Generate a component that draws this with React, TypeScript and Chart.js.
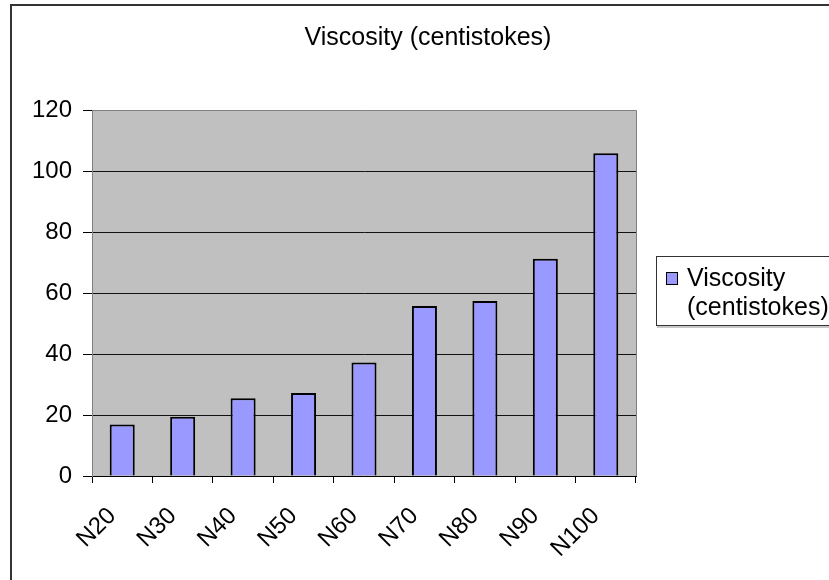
import React, { useEffect, useRef } from 'react';
import { Chart, registerables } from 'chart.js';

Chart.register(...registerables);

const chartTitle = 'Viscosity (centistokes)';
const categories = ['N20', 'N30', 'N40', 'N50', 'N60', 'N70', 'N80', 'N90', 'N100'];
const viscosity = [16.9, 19.4, 25.5, 27.2, 37.2, 55.7, 57.4, 71.2, 105.8];
const legendLines = ['Viscosity', '(centistokes)'];
const yTickValues = [0, 20, 40, 60, 80, 100, 120];

const FONT = '"Liberation Sans", Arial, Helvetica, sans-serif';

export default function App() {
  const ref = useRef<HTMLCanvasElement>(null);

  useEffect(() => {
    const canvas = ref.current;
    if (!canvas) return;

    const decor = {
      id: 'decor',
      beforeDraw(chart: any) {
        const { ctx, chartArea: a } = chart;
        ctx.save();
        ctx.fillStyle = '#ffffff';
        ctx.fillRect(0, 0, chart.width, chart.height);
        ctx.fillStyle = '#C0C0C0';
        ctx.fillRect(a.left, a.top, a.right - a.left, a.bottom - a.top);
        ctx.restore();
      },
      afterDraw(chart: any) {
        const { ctx, chartArea: a } = chart;
        ctx.save();
        // plot area border (top and right)
        ctx.strokeStyle = '#808080';
        ctx.lineWidth = 1;
        ctx.beginPath();
        ctx.moveTo(Math.round(a.left) + 0.5, Math.round(a.top) + 0.5);
        ctx.lineTo(Math.round(a.right) + 0.5, Math.round(a.top) + 0.5);
        ctx.lineTo(Math.round(a.right) + 0.5, Math.round(a.bottom));
        ctx.stroke();

        // outer chart border
        ctx.strokeStyle = '#333333';
        ctx.lineWidth = 2;
        ctx.strokeRect(11, 5, 1000, 800);

        // title
        ctx.fillStyle = '#000';
        ctx.font = `25px ${FONT}`;
        ctx.textAlign = 'center';
        ctx.textBaseline = 'alphabetic';
        ctx.fillText(chartTitle, 428, 45);

        // legend box
        ctx.strokeStyle = '#333333';
        ctx.lineWidth = 1;
        ctx.strokeRect(656.5, 256.5, 400, 69);
        ctx.strokeStyle = '#909090';
        ctx.beginPath();
        ctx.moveTo(657, 327);
        ctx.lineTo(900, 327);
        ctx.stroke();

        // legend swatch
        ctx.fillStyle = '#9999FF';
        ctx.fillRect(666, 272, 11, 12);
        ctx.strokeStyle = '#000';
        ctx.lineWidth = 1;
        ctx.strokeRect(666.5, 272.5, 11, 12);

        // legend text
        ctx.fillStyle = '#000';
        ctx.font = `25px ${FONT}`;
        ctx.textAlign = 'left';
        ctx.fillText(legendLines[0], 687, 286);
        ctx.fillText(legendLines[1], 687, 315);
        ctx.restore();
      },
    };

    const chart = new Chart(canvas, {
      type: 'bar',
      data: {
        labels: categories,
        datasets: [
          {
            label: legendLines.join(' '),
            data: viscosity,
            backgroundColor: '#9999FF',
            borderColor: '#000000',
            borderWidth: 2,
            barPercentage: 0.414,
            categoryPercentage: 1,
          },
        ],
      },
      options: {
        responsive: false,
        animation: false,
        layout: { padding: { left: 20, top: 110, right: 193, bottom: 20 } },
        plugins: {
          legend: { display: false },
          title: { display: false },
          tooltip: { enabled: false },
        },
        scales: {
          x: {
            offset: true,
            grid: {
              display: true,
              drawOnChartArea: false,
              drawTicks: true,
              tickLength: 7,
              offset: true,
              color: '#000',
              tickColor: '#000',
            },
            border: { display: true, color: '#000', width: 1 },
            ticks: {
              color: '#000',
              font: { family: FONT, size: 24 },
              minRotation: 45,
              maxRotation: 45,
              autoSkip: false,
              padding: 19,
              labelOffset: -10,
            },
            afterFit: (s: any) => {
              s.height = 84;
            },
          },
          y: {
            min: 0,
            max: 120,
            afterBuildTicks: (s: any) => {
              s.ticks = yTickValues.map((v) => ({ value: v }));
            },
            ticks: {
              color: '#000',
              font: { family: FONT, size: 24 },
              padding: 11,
            },
            grid: {
              color: (c: any) => (c.tick && c.tick.value === 120 ? '#808080' : '#111111'),
              tickColor: '#000',
              tickLength: 9,
              drawTicks: true,
            },
            border: { display: true, color: '#808080', width: 1 },
            afterFit: (s: any) => {
              s.width = 72;
            },
          },
        },
      },
      plugins: [decor],
    });

    return () => chart.destroy();
  }, []);

  return (
    <div style={{ position: 'fixed', left: 0, top: 0, width: 829, height: 580, background: '#fff' }}>
      <canvas ref={ref} width={829} height={580} style={{ display: 'block', width: 829, height: 580 }} />
    </div>
  );
}
